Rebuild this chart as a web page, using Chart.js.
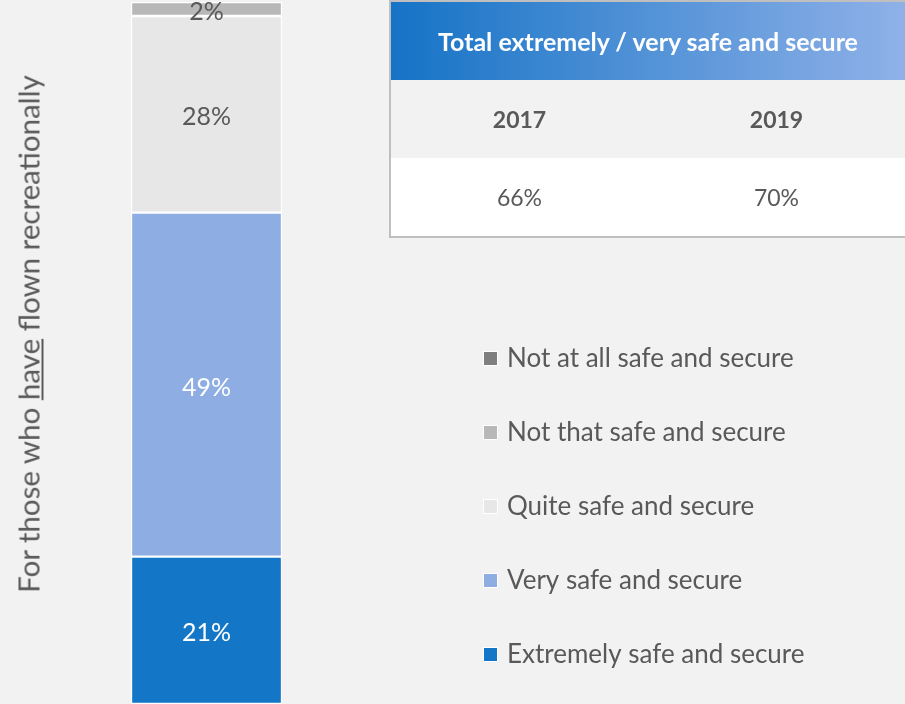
<!DOCTYPE html>
<html>
<head>
<meta charset="utf-8">
<script src="https://cdn.jsdelivr.net/npm/chart.js@4.4.0/dist/chart.umd.min.js"></script>
<style>
  html, body { margin:0; padding:0; background:#f2f2f2; }
  #wrap { position:relative; width:905px; height:704px; overflow:hidden; font-family:Lato, sans-serif; color:#595959; }
  #myChart { position:absolute; left:0; top:0; }
  #ytitle { position:absolute; left:28px; top:334px; transform:translate(-50%,-50%) rotate(-90deg); white-space:nowrap; font-size:29.5px; }
  #totals { position:absolute; left:389px; top:0; width:518px; border:2px solid #bfbfbf; border-collapse:collapse; font-size:23px; }
  #totals td, #totals th { height:78px; padding:0; text-align:center; width:50%; }
  #totals th.head { color:#fff; font-weight:bold; font-size:25px; background:linear-gradient(to right, #1573c6, #8fb1e8); }
  #totals tr.years td { background:#f2f2f2; font-weight:bold; }
  #totals tr.vals td { background:#fff; }
</style>
</head>
<body>
<div id="wrap">
  <canvas id="myChart" width="905" height="704"></canvas>
  <div id="ytitle">For those who <u>have</u> flown recreationally</div>
  <table id="totals"></table>
</div>
<script>
var categories = ['For those who have flown recreationally'];
var seriesLabels = ['Extremely safe and secure', 'Very safe and secure', 'Quite safe and secure', 'Not that safe and secure', 'Not at all safe and secure'];
var seriesValues = [21, 49, 28, 2, 0];
var seriesColors = ['#1376c7', '#8eaee3', '#e7e7e7', '#b8b8b8', '#7f7f7f'];
var labelColors = ['#ffffff', '#ffffff', '#595959', '#595959', '#595959'];
var tableTitle = 'Total extremely / very safe and secure';
var tableYears = ['2017', '2019'];
var tableTotals = ['66%', '70%'];

// summary table
var tbl = document.getElementById('totals');
tbl.innerHTML = "<tr><th class='head' colspan='2'>" + tableTitle + "</th></tr>" +
    "<tr class='years'>" + tableYears.map(function(o){ return "<td>" + o + "</td>"; }).join('') + "</tr>" +
    "<tr class='vals'>" + tableTotals.map(function(o){ return "<td>" + o + "</td>"; }).join('') + "</tr>";

var datasets = seriesLabels.map(function(o, i){
    return {
        label: o,
        data: [seriesValues[i]],
        backgroundColor: seriesColors[i],
        borderColor: '#ffffff',
        borderWidth: 1.5,
        borderSkipped: false,
        barThickness: 151
    };
});

// value labels inside the bar segments
var segmentLabels = {
    id: 'segmentLabels',
    afterDatasetsDraw: function(chart){
        var ctx = chart.ctx;
        ctx.save();
        ctx.font = '25px Lato';
        ctx.textAlign = 'center';
        ctx.textBaseline = 'middle';
        chart.data.datasets.forEach(function(ds, i){
            var v = ds.data[0];
            if (!v) return;
            var bar = chart.getDatasetMeta(i).data[0];
            ctx.fillStyle = labelColors[i];
            ctx.fillText(v + '%', bar.x, (bar.y + bar.base) / 2 + 3);
        });
        ctx.restore();
    }
};

// legend drawn to the right, top item = last series
var sideLegend = {
    id: 'sideLegend',
    afterDraw: function(chart){
        var ctx = chart.ctx;
        var n = chart.data.datasets.length;
        ctx.save();
        ctx.font = '26px Lato';
        ctx.textBaseline = 'middle';
        ctx.textAlign = 'left';
        for (var k = 0; k < n; k++) {
            var ds = chart.data.datasets[n - 1 - k];
            var y = 358 + k * 74;
            ctx.fillStyle = '#ffffff';
            ctx.fillRect(483, y - 7, 15, 15);
            ctx.fillStyle = ds.backgroundColor;
            ctx.fillRect(484, y - 6, 13, 13);
            ctx.fillStyle = '#595959';
            ctx.fillText(ds.label, 507, y + 1);
        }
        ctx.restore();
    }
};

var ctx = document.getElementById('myChart').getContext('2d');
var myChart = new Chart(ctx, {
    type: 'bar',
    data: {
        labels: categories,
        datasets: datasets
    },
    options: {
        responsive: false,
        animation: false,
        layout: { padding: { left: 0, right: 492, top: 2, bottom: 0 } },
        scales: {
            x: { stacked: true, display: false },
            y: { stacked: true, display: false, min: 0, max: 100 }
        },
        plugins: {
            legend: { display: false },
            tooltip: { enabled: false }
        }
    },
    plugins: [segmentLabels, sideLegend]
});
</script>
</body>
</html>
